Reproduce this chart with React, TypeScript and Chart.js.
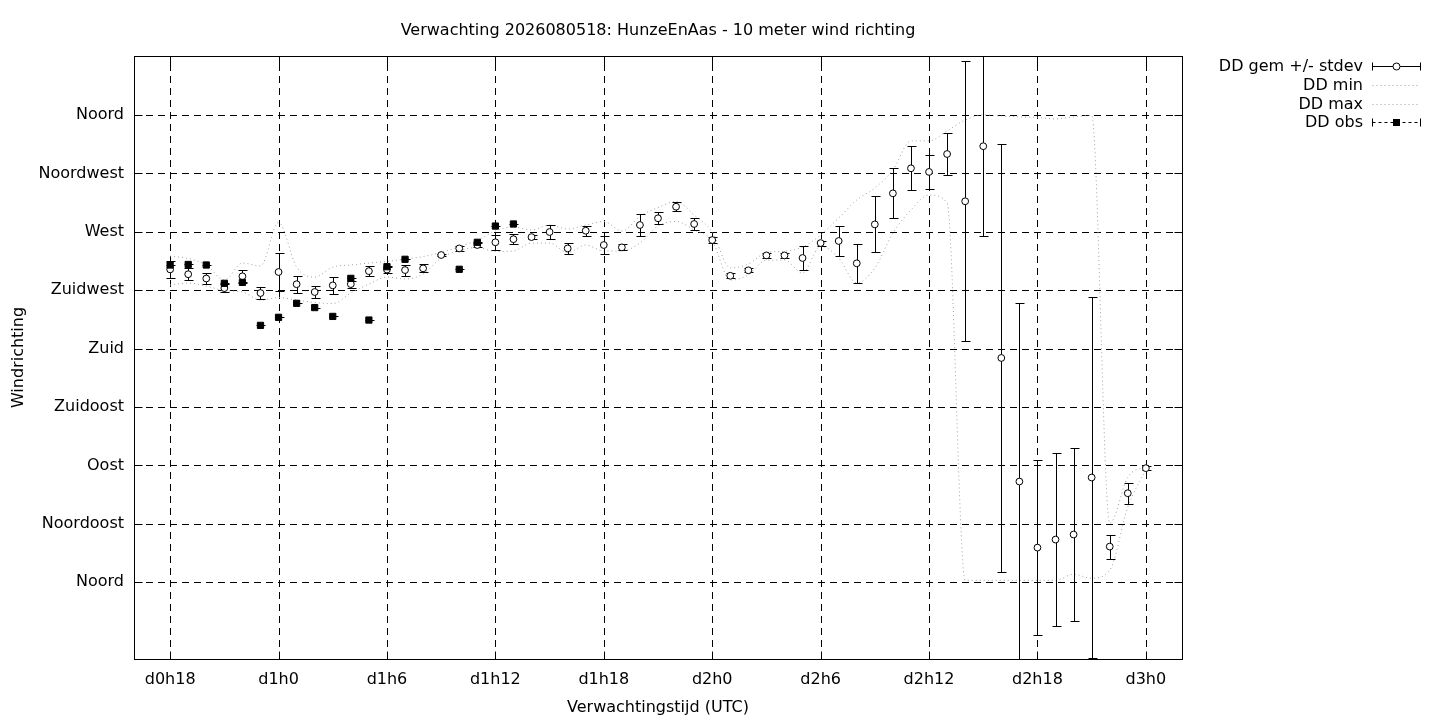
import React, { useEffect, useRef } from "react";
import { Chart, registerables } from "chart.js";

Chart.register(...registerables);

const FONT = '"DejaVu Sans", "Liberation Sans", sans-serif';

const titleText = "Verwachting 2026080518: HunzeEnAas - 10 meter wind richting";
const xAxisTitle = "Verwachtingstijd (UTC)";
const yAxisTitle = "Windrichting";
const legendLabels = ["DD gem +/- stdev", "DD min", "DD max", "DD obs"];

// forecast hour (hours after d0h0)
const hours = [
  18, 19, 20, 21, 22, 23, 24, 25, 26, 27, 28, 29, 30, 31, 32, 33, 34, 35, 36,
  37, 38, 39, 40, 41, 42, 43, 44, 45, 46, 47, 48, 49, 50, 51, 52, 53, 54, 55,
  56, 57, 58, 59, 60, 61, 62, 63, 64, 65, 66, 67, 68, 69, 70, 71, 72,
];

// ensemble mean direction (degrees)
const ddMean = [
  241.0, 237.3, 234.0, 226.6, 235.7, 222.8, 239.0, 229.6, 223.6, 228.7, 229.7,
  239.7, 240.9, 240.5, 241.8, 252.1, 257.2, 259.8, 261.9, 264.3, 265.9, 269.8,
  257.2, 270.8, 259.8, 258.0, 275.2, 280.4, 289.3, 276.0, 263.6, 236.1, 240.3,
  251.8, 251.8, 249.8, 261.3, 262.9, 245.7, 275.7, 299.6, 318.9, 316.1, 329.9,
  293.5, 335.9, 172.8, 77.6, 26.7, 32.9, 36.8, 80.7, 27.5, 68.6, 87.9,
];

// standard deviation (degrees)
const ddStdev = [
  6.8, 4.5, 4.2, 3.2, 5.2, 4.9, 14.3, 6.6, 4.6, 6.6, 2.7, 4.0, 2.9, 4.2, 3.1,
  0.4, 1.8, 1.9, 5.8, 3.6, 1.8, 5.6, 4.5, 3.9, 7.2, 2.3, 8.7, 4.5, 3.5, 4.6,
  2.5, 1.9, 1.5, 1.9, 1.9, 9.1, 1.9, 11.3, 15.2, 21.6, 19.3, 16.8, 12.9, 16.2,
  107.9, 69.4, 165.0, 137.2, 67.6, 66.7, 66.3, 138.8, 9.3, 8.1, 1.5,
];

// ensemble minimum (degrees)
const ddMin = [
  229.0, 230.5, 228.2, 224.7, 223.6, 217.4, 219.3, 217.4, 215.5, 214.7, 222.8,
  229.7, 235.1, 233.6, 237.4, 249.8, 255.5, 257.9, 254.8, 255.2, 261.3, 261.3,
  254.0, 259.8, 255.2, 255.2, 261.3, 274.4, 277.9, 271.4, 262.9, 232.8, 236.7,
  248.2, 248.2, 238.2, 259.0, 249.8, 230.5, 242.1, 269.0, 286.8, 298.3, 292.2,
  1.5, 1.5, 1.5, 1.5, 1.5, 1.5, 6.2, 3.1, 9.3, 57.8, 87.1,
];

// ensemble maximum (degrees)
const ddMax = [
  251.3, 249.4, 244.4, 232.8, 245.9, 243.6, 277.1, 242.8, 235.1, 242.8, 244.4,
  245.9, 247.1, 249.0, 250.9, 254.0, 258.6, 263.6, 270.6, 273.7, 271.4, 275.2,
  272.1, 275.2, 277.9, 270.6, 281.8, 288.7, 293.3, 282.9, 269.8, 242.1, 245.1,
  254.0, 255.0, 258.2, 267.5, 280.6, 294.5, 303.7, 317.6, 340.0, 340.0, 347.7,
  356.1, 360.0, 359.2, 358.5, 358.1, 356.9, 358.5, 359.6, 45.5, 80.9, 89.4,
];

// observations (degrees)
const ddObs: (number | null)[] = [
  244.4, 244.8, 244.4, 230.3, 231.0, 197.9, 204.1, 214.9, 211.6, 204.8, 234.1,
  202.0, 243.1, 248.8, null, null, 241.1, 261.9, 274.4, 276.0, null, null,
  null, null, null, null, null, null, null, null, null, null, null, null, null,
  null, null, null, null, null, null, null, null, null, null, null, null, null,
  null, null, null, null, null, null, null,
];

const yTickValues = [0, 45, 90, 135, 180, 225, 270, 315, 360];
const yTickLabels = [
  "Noord", "Noordoost", "Oost", "Zuidoost", "Zuid", "Zuidwest", "West", "Noordwest", "Noord",
];
const xTickValues = [18, 24, 30, 36, 42, 48, 54, 60, 66, 72];
const xTickLabels = [
  "d0h18", "d1h0", "d1h6", "d1h12", "d1h18", "d2h0", "d2h6", "d2h12", "d2h18", "d3h0",
];
const xRange = [16, 74];
const yRange = [-59.1, 405.4];

const GRAY = "#a0a0a0";

const gnuplotPlugin = {
  id: "gnuplotLook",
  beforeDatasetsDraw(chart: any) {
    const { ctx, chartArea: a, scales } = chart;
    ctx.save();
    ctx.strokeStyle = "#000";
    ctx.lineWidth = 1;
    ctx.setLineDash([7, 5]);
    for (const v of xTickValues) {
      const x = Math.round(scales.x.getPixelForValue(v)) + 0.5;
      ctx.beginPath();
      ctx.moveTo(x, a.bottom);
      ctx.lineTo(x, a.top);
      ctx.stroke();
    }
    for (const v of yTickValues) {
      const y = Math.round(scales.y.getPixelForValue(v)) + 0.5;
      ctx.beginPath();
      ctx.moveTo(a.left, y);
      ctx.lineTo(a.right, y);
      ctx.stroke();
    }
    ctx.restore();
  },
  beforeDatasetDraw(chart: any, args: any) {
    const { ctx, chartArea: a, scales } = chart;
    if (args.index === 2) {
      ctx.save();
      ctx.beginPath();
      ctx.rect(a.left, a.top, a.right - a.left, a.bottom - a.top);
      ctx.clip();
      ctx.strokeStyle = "#000";
      ctx.lineWidth = 1;
      hours.forEach((h, i) => {
        const x = Math.round(scales.x.getPixelForValue(h)) + 0.5;
        const y1 = Math.round(scales.y.getPixelForValue(ddMean[i] - ddStdev[i])) + 0.5;
        const y2 = Math.round(scales.y.getPixelForValue(ddMean[i] + ddStdev[i])) + 0.5;
        ctx.beginPath();
        ctx.moveTo(x, y1);
        ctx.lineTo(x, y2);
        ctx.moveTo(x - 4, y1);
        ctx.lineTo(x + 5, y1);
        ctx.moveTo(x - 4, y2);
        ctx.lineTo(x + 5, y2);
        ctx.stroke();
      });
      ctx.restore();
    }
    if (args.index === 3) {
      ctx.save();
      ctx.strokeStyle = "#000";
      ctx.lineWidth = 1;
      hours.forEach((h, i) => {
        const v = ddObs[i];
        if (v === null) return;
        const x = Math.round(scales.x.getPixelForValue(h)) + 0.5;
        const y = Math.round(scales.y.getPixelForValue(v)) + 0.5;
        ctx.beginPath();
        ctx.moveTo(x - 4, y);
        ctx.lineTo(x + 5, y);
        ctx.stroke();
      });
      ctx.restore();
    }
  },
  afterDatasetsDraw(chart: any) {
    const { ctx, chartArea: a, scales } = chart;
    ctx.save();
    // frame
    ctx.strokeStyle = "#000";
    ctx.lineWidth = 1;
    ctx.setLineDash([]);
    const L = Math.round(a.left) + 0.5;
    const T = Math.round(a.top) + 0.5;
    const R = Math.round(a.right) + 0.5;
    const B = Math.round(a.bottom) + 0.5;
    ctx.strokeRect(L, T, R - L, B - T);
    // inward tick marks (mirrored)
    const tl = 8;
    ctx.beginPath();
    for (const v of xTickValues) {
      const x = Math.round(scales.x.getPixelForValue(v)) + 0.5;
      ctx.moveTo(x, B);
      ctx.lineTo(x, B - tl);
      ctx.moveTo(x, T);
      ctx.lineTo(x, T + tl);
    }
    for (const v of yTickValues) {
      const y = Math.round(scales.y.getPixelForValue(v)) + 0.5;
      ctx.moveTo(L, y);
      ctx.lineTo(L + tl, y);
      ctx.moveTo(R, y);
      ctx.lineTo(R - tl, y);
    }
    ctx.stroke();

    // title
    ctx.fillStyle = "#000";
    ctx.font = `16px ${FONT}`;
    ctx.textAlign = "center";
    ctx.textBaseline = "middle";
    ctx.fillText(titleText, (a.left + a.right) / 2, 31);

    // legend
    const rows = [67, 86, 105, 123];
    const tx = 1363;
    const s1 = 1372.5;
    const s2 = 1420.5;
    ctx.textAlign = "right";
    legendLabels.forEach((lab, i) => {
      ctx.fillStyle = "#000";
      ctx.fillText(lab, tx, rows[i]);
      const y = Math.round(rows[i]) - 0.5;
      ctx.lineWidth = 1;
      if (i === 0 || i === 3) {
        ctx.strokeStyle = "#000";
        ctx.setLineDash(i === 0 ? [] : [3, 3]);
        ctx.beginPath();
        ctx.moveTo(s1, y);
        ctx.lineTo(s2, y);
        ctx.stroke();
        ctx.setLineDash([]);
        ctx.beginPath();
        ctx.moveTo(s1, y - 4);
        ctx.lineTo(s1, y + 4);
        ctx.moveTo(s2, y - 4);
        ctx.lineTo(s2, y + 4);
        ctx.stroke();
        const cx = (s1 + s2) / 2;
        if (i === 0) {
          ctx.beginPath();
          ctx.arc(cx, y, 3.5, 0, Math.PI * 2);
          ctx.fillStyle = "#fff";
          ctx.fill();
          ctx.stroke();
        } else {
          ctx.fillStyle = "#000";
          ctx.fillRect(cx - 3.5, y - 3.5, 7, 7);
        }
      } else {
        ctx.strokeStyle = GRAY;
        ctx.setLineDash([1, 3]);
        ctx.beginPath();
        ctx.moveTo(s1, y);
        ctx.lineTo(s2, y);
        ctx.stroke();
        ctx.setLineDash([]);
      }
    });
    ctx.restore();
  },
};

export default function App() {
  const ref = useRef<HTMLCanvasElement | null>(null);

  useEffect(() => {
    if (!ref.current) return;
    const pts = (arr: (number | null)[]) => hours.map((h, i) => ({ x: h, y: arr[i] }));
    const chart = new Chart(ref.current, {
      type: "line",
      data: {
        datasets: [
          {
            label: "DD min",
            data: pts(ddMin) as any,
            borderColor: GRAY,
            borderWidth: 1,
            borderDash: [1, 3],
            pointRadius: 0,
            fill: false,
            cubicInterpolationMode: "monotone",
            order: 4,
          },
          {
            label: "DD max",
            data: pts(ddMax) as any,
            borderColor: GRAY,
            borderWidth: 1,
            borderDash: [1, 3],
            pointRadius: 0,
            fill: false,
            cubicInterpolationMode: "monotone",
            order: 3,
          },
          {
            label: "DD gem +/- stdev",
            data: pts(ddMean) as any,
            showLine: false,
            pointStyle: "circle",
            pointRadius: 3.4,
            borderWidth: 1,
            pointBorderColor: "#000",
            pointBackgroundColor: "#fff",
            borderColor: "#000",
            backgroundColor: "#fff",
            order: 2,
          },
          {
            label: "DD obs",
            data: pts(ddObs) as any,
            showLine: false,
            pointStyle: "rect",
            pointRadius: 4.4,
            borderWidth: 1,
            pointBorderColor: "#000",
            pointBackgroundColor: "#000",
            borderColor: "#000",
            backgroundColor: "#000",
            order: 1,
          },
        ],
      },
      options: {
        animation: false,
        responsive: false,
        maintainAspectRatio: false,
        events: [],
        layout: { padding: { left: 0, right: 258, top: 56, bottom: 0 } },
        plugins: {
          legend: { display: false },
          title: { display: false },
          tooltip: { enabled: false },
        },
        scales: {
          x: {
            type: "linear",
            min: xRange[0],
            max: xRange[1],
            grid: { display: false, drawTicks: false },
            border: { display: false },
            afterBuildTicks: (scale: any) => {
              scale.ticks = xTickValues.map((v) => ({ value: v }));
            },
            afterFit: (scale: any) => {
              scale.height = 61;
            },
            ticks: {
              autoSkip: false,
              maxRotation: 0,
              padding: 11,
              color: "#000",
              font: { family: FONT, size: 16 },
              callback: (_v: any, i: number) => xTickLabels[i],
            },
            title: {
              display: true,
              text: xAxisTitle,
              color: "#000",
              font: { family: FONT, size: 16 },
              padding: { top: 0, bottom: 3 },
            },
          },
          y: {
            type: "linear",
            min: yRange[0],
            max: yRange[1],
            grid: { display: false, drawTicks: false },
            border: { display: false },
            afterBuildTicks: (scale: any) => {
              scale.ticks = yTickValues.map((v) => ({ value: v }));
            },
            afterFit: (scale: any) => {
              scale.width = 134;
            },
            ticks: {
              autoSkip: false,
              padding: 10,
              color: "#000",
              font: { family: FONT, size: 16 },
              callback: (_v: any, i: number) => yTickLabels[i],
            },
            title: {
              display: true,
              text: yAxisTitle,
              color: "#000",
              font: { family: FONT, size: 16 },
              padding: { top: 9, bottom: 0 },
            },
          },
        },
      },
      plugins: [gnuplotPlugin],
    });
    return () => chart.destroy();
  }, []);

  return (
    <div
      style={{
        position: "fixed",
        left: 0,
        top: 0,
        width: 1440,
        height: 720,
        background: "#fff",
      }}
    >
      <canvas
        ref={ref}
        width={1440}
        height={720}
        style={{ display: "block", width: 1440, height: 720 }}
      />
    </div>
  );
}
